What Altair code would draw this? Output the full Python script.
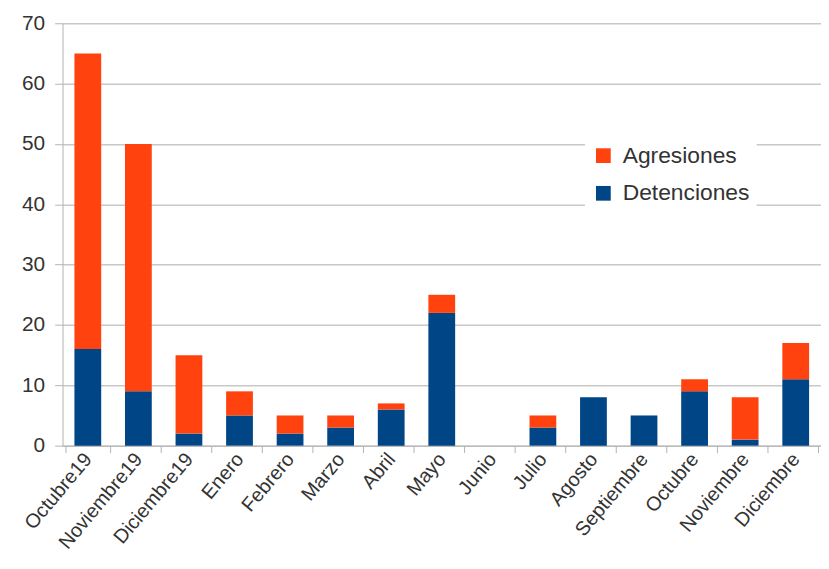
import altair as alt
import pandas as pd

meses = ["Octubre19", "Noviembre19", "Diciembre19", "Enero", "Febrero", "Marzo", "Abril",
         "Mayo", "Junio", "Julio", "Agosto", "Septiembre", "Octubre", "Noviembre", "Diciembre"]
detenciones = [16, 9, 2, 5, 2, 3, 6, 22, 0, 3, 8, 5, 9, 1, 11]
agresiones = [49, 41, 13, 4, 3, 2, 1, 3, 0, 2, 0, 0, 2, 7, 6]

rows = []
for i, m in enumerate(meses):
    rows.append({"mes": m, "serie": "Detenciones", "valor": detenciones[i], "ord": 0})
    rows.append({"mes": m, "serie": "Agresiones", "valor": agresiones[i], "ord": 1})
df = pd.DataFrame(rows)

font = "Liberation Sans"

chart = alt.Chart(df).mark_bar(size=27).encode(
    x=alt.X("mes:N", sort=meses, title=None,
            axis=alt.Axis(labelAngle=-50, labelFontSize=20, labelColor="#333333",
                          labelFont=font, tickBand="extent", tickSize=7,
                          tickColor="#b3b3b3", domainColor="#b3b3b3", labelPadding=3)),
    y=alt.Y("valor:Q", stack="zero", title=None,
            scale=alt.Scale(domain=[0, 70], nice=False),
            axis=alt.Axis(values=[0, 10, 20, 30, 40, 50, 60, 70], labelFontSize=21,
                          labelColor="#333333", labelFont=font, gridColor="#c8c8c8",
                          gridWidth=1.5, tickColor="#b3b3b3", domainColor="#b3b3b3",
                          tickSize=8, labelPadding=10)),
    color=alt.Color("serie:N",
                    scale=alt.Scale(domain=["Agresiones", "Detenciones"],
                                    range=["#ff420e", "#004586"]),
                    legend=alt.Legend(title=None, orient="none", legendX=527, legendY=115,
                                      labelFontSize=23, labelFont=font, labelColor="#333333",
                                      symbolType="square", symbolSize=220,
                                      symbolStrokeWidth=0, rowPadding=14, labelOffset=8,
                                      fillColor="white", padding=7)),
    order=alt.Order("ord:Q", sort="ascending"),
).properties(
    width=765, height=426,
    autosize=alt.AutoSizeParams(type="none"),
    padding={"left": 55, "top": 13, "right": 0, "bottom": 120},
).configure_view(stroke=None)

chart.save("out.html", embed_options={"renderer": "svg", "actions": False})
